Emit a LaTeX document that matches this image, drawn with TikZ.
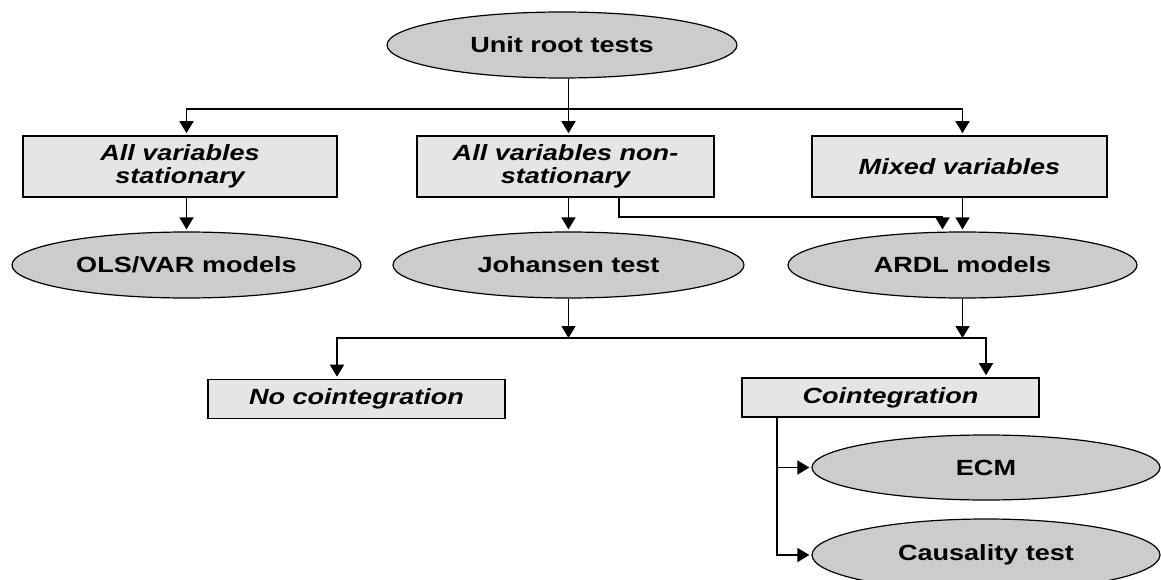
\documentclass[tikz,border=0pt]{standalone}
\usepackage{fontspec}
\setmainfont{Liberation Sans}[FakeStretch=1.23]
\usetikzlibrary{arrows.meta, shapes.geometric}
\definecolor{ovalgray}{gray}{0.8}
\definecolor{boxgray}{gray}{0.9}

\begin{document}
\begin{tikzpicture}[x=1pt, y=-1pt,
    ->,
    >={Triangle[length=12pt, width=14pt]},
    shorten >=2pt,
    line width=1.6pt,
    oval/.style={ellipse, draw, line width=1.2pt, fill=ovalgray,
        minimum width=349pt, minimum height=66pt, inner sep=0pt,
        font=\fontsize{22}{23}\selectfont\bfseries},
    tbox/.style={rectangle, draw, line width=1.6pt, fill=boxgray,
        minimum width=297pt, minimum height=61pt, inner sep=0pt, align=center,
        font=\fontsize{22}{23}\selectfont\bfseries\itshape}]

    \useasboundingbox (0,0) rectangle (1161,580);

    \node[oval, minimum width=350pt] (unit) at (562,45) {Unit root tests};

    \node[tbox, minimum width=314pt] (stat) at (180,166.5) {All variables\\stationary};
    \node[tbox] (nonstat) at (565.5,166.5) {All variables non-\\stationary};
    \node[tbox, minimum width=295pt] (mixed) at (959.5,166.5) {Mixed variables};

    \node[oval] (ols) at (186.5,265) {OLS/VAR models};
    \node[oval, minimum width=351pt] (joh) at (568.5,265) {Johansen test};
    \node[oval] (ardl) at (962.5,265) {ARDL models};

    \node[tbox, minimum height=39pt] (nocoint) at (356.5,399) {No cointegration};
    \node[tbox, minimum height=39pt] (coint) at (890.5,397.5) {Cointegration};

    \node[oval, minimum width=348pt, minimum height=65pt] (ecm) at (986,467.5) {ECM};
    \node[oval, minimum width=348pt, minimum height=72pt] (caus) at (986,555) {Causality test};

    % unit root split
    \coordinate (bus1) at (joh |- 0,109);
    \draw (unit.south -| joh) -- (joh |- nonstat.north);
    \draw (bus1) -| (ols |- stat.north);
    \draw (bus1) -| (ardl |- mixed.north);

    \draw (stat.south -| ols) -- (ols);
    \draw (nonstat.south -| joh) -- (joh);
    \draw (mixed.south -| ardl) -- (ardl);

    \coordinate (side) at ([xshift=-20pt]ardl.north);
    \draw ([xshift=53.5pt]nonstat.south) -- ++(0,19) -| (side);

    % cointegration split
    \coordinate (bus2) at (joh |- 0,338);
    \draw[shorten >=0pt] (joh) -- (bus2);
    \draw[shorten >=0pt] (ardl) -- (ardl |- bus2);
    \draw (bus2) -| ([xshift=-19.5pt]nocoint.north);
    \draw (bus2) -| (ecm |- coint.north);

    \draw ([xshift=-113.5pt]coint.south) |- (ecm);
    \draw ([xshift=-113.5pt]coint.south) |- (caus);
\end{tikzpicture}
\end{document}
